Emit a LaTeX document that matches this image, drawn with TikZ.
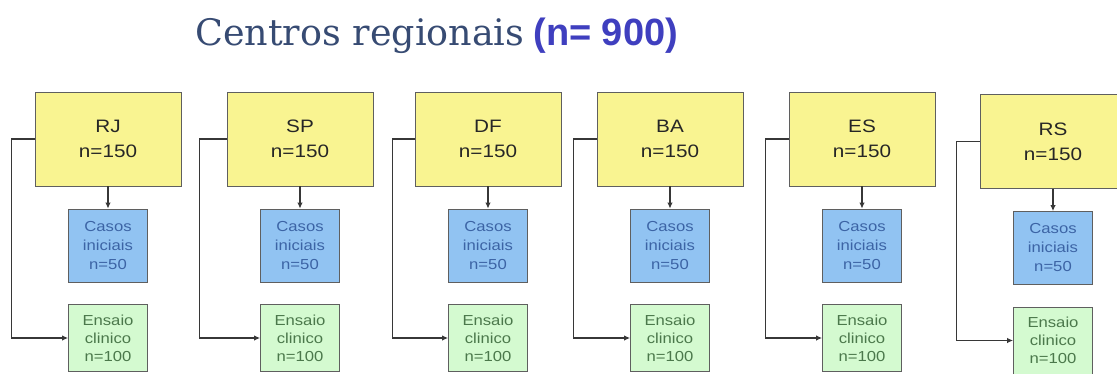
\documentclass[tikz,border=0pt]{standalone}
\usepackage{fontspec}
\setmainfont{Liberation Sans}
\newfontfamily\titleserif{DejaVu Serif}
\newfontfamily\boxfont[FakeStretch=1.15]{Liberation Sans}
\usetikzlibrary{arrows.meta}
\definecolor{ybox}{RGB}{249,244,145}
\definecolor{bbox}{RGB}{145,195,242}
\definecolor{gbox}{RGB}{212,250,208}
\definecolor{boxline}{RGB}{95,95,95}
\definecolor{btext}{RGB}{60,100,165}
\definecolor{gtext}{RGB}{75,120,75}
\definecolor{titlec}{RGB}{55,75,115}
\definecolor{titlen}{RGB}{63,63,191}
\definecolor{connc}{RGB}{55,55,55}
\begin{document}
\begin{tikzpicture}[x=1pt,y=-1pt,
  ctrbox/.style={draw=boxline, line width=0.8pt, fill=ybox, minimum width=146pt, minimum height=94pt,
    inner sep=0pt, align=center, text=black!85, font=\boxfont\fontsize{18}{25}\selectfont},
  casebox/.style={draw=boxline, line width=0.8pt, fill=bbox, minimum width=79pt, minimum height=73pt,
    inner sep=0pt, align=center, text=btext, font=\boxfont\fontsize{14.5}{19}\selectfont},
  trialbox/.style={draw=boxline, line width=0.8pt, fill=gbox, minimum width=79pt, minimum height=67pt,
    inner sep=0pt, align=center, text=gtext, font=\boxfont\fontsize{14.5}{18}\selectfont},
  conn/.style={draw=connc, line width=1.2pt, -{Latex[length=6pt,width=5.5pt]}}]
\useasboundingbox (0,0) rectangle (1117,373);
\clip (0,0) rectangle (1117,373);
\fill[white] (0,0) rectangle (1117,373);

\node[anchor=base west, inner sep=0pt] (title) at (195,45)
  {{\titleserif\fontsize{36.5}{40}\selectfont\color{titlec}Centros regionais}\hspace{9pt}{\fontsize{38}{40}\selectfont\bfseries\color{titlen}(n= 900)}};

\foreach \cx/\lab/\dy/\off/\nm in {108/RJ/0/23/a, 300/SP/0/27/b, 488/DF/0/22/c, 670/BA/0/23/d, 862/ES/0/23/e, 1053/RS/2.5/23/f}{
  \node[ctrbox] (y\nm) at (\cx,139+\dy) {\lab\\n=150};
  \node[casebox] (c\nm) at (\cx,245.5+\dy) {Casos\\iniciais\\n=50};
  \node[trialbox] (g\nm) at (\cx,338+\dy) {Ensaio\\clinico\\n=100};
  \draw[conn] (y\nm.south) -- (c\nm.north);
  \draw[conn] (y\nm.west) -- ++(-\off,0) |- (g\nm.west);
}
\end{tikzpicture}
\end{document}
